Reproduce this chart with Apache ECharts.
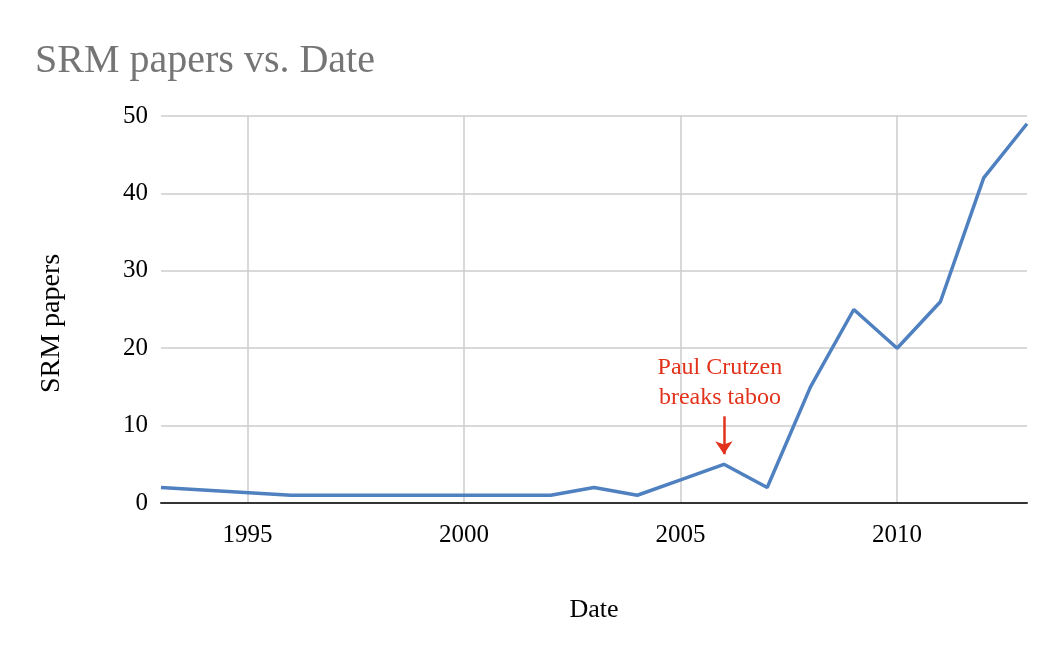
<!doctype html>
<html lang="en">
<head>
    <meta charset="UTF-8">
    <title>SRM papers vs. Date</title>
    <script type="text/javascript" src="https://cdn.jsdelivr.net/npm/echarts@6/dist/echarts.min.js"></script>
    <style>
        html, body { margin: 0; padding: 0; background: #fff; }
    </style>
</head>
<body>
<div id="main" style="width: 1060px; height: 656px;"></div>
<script type="text/javascript">
    // years on the x axis, null = no point that year (line is joined across)
    var years = ['1993', '1994', '1995', '1996', '1997', '1998', '1999', '2000', '2001', '2002', '2003',
                 '2004', '2005', '2006', '2007', '2008', '2009', '2010', '2011', '2012', '2013'];
    var papers = [2, null, null, 1, 1, 1, 1, 1, 1, 1, 2,
                  1, 3, 5, 2, 15, 25, 20, 26, 42, 49];
    var yTicks = [0, 10, 20, 30, 40, 50];

    // annotation: arrow from/to value at the year Crutzen published
    var noteYear = '2006';
    var noteText = 'Paul Crutzen\nbreaks taboo';
    var arrowFrom = 11.2, arrowTo = 6.3, noteAt = 11.7;

    var serif = '"Liberation Serif", "Times New Roman", serif';
    var red = '#e2321b';

    var myChart = echarts.init(document.getElementById('main'));

    var option = {
        animation: false,
        backgroundColor: '#fff',
        title: {
            text: 'SRM papers vs. Date',
            left: 30,
            top: 36,
            textStyle: {
                color: '#757575',
                fontFamily: serif,
                fontWeight: 'normal',
                fontSize: 40
            }
        },
        grid: {
            left: 161,
            right: 33,
            top: 116,
            bottom: 153
        },
        xAxis: {
            type: 'category',
            data: years,
            boundaryGap: false,
            name: 'Date',
            nameLocation: 'middle',
            nameGap: 94,
            nameTextStyle: { color: '#000', fontFamily: serif, fontSize: 26 },
            axisLine: { lineStyle: { color: '#333', width: 2 } },
            axisTick: { show: false },
            axisLabel: {
                color: '#000',
                fontFamily: serif,
                fontSize: 25,
                margin: 20,
                interval: function (idx, val) { return Number(val) % 5 === 0; }
            },
            splitLine: {
                show: true,
                interval: function (idx, val) { return Number(val) % 5 === 0; },
                lineStyle: { color: '#cccccc', width: 1.5 }
            }
        },
        yAxis: {
            type: 'value',
            min: yTicks[0],
            max: yTicks[yTicks.length - 1],
            interval: 10,
            name: 'SRM papers',
            nameLocation: 'middle',
            nameGap: 95,
            nameRotate: 90,
            nameTextStyle: { color: '#000', fontFamily: serif, fontSize: 28, padding: [0, 28, 0, 0] },
            axisLine: { show: false },
            axisTick: { show: false },
            axisLabel: { color: '#000', fontFamily: serif, fontSize: 25, margin: 13 },
            splitLine: { lineStyle: { color: '#cccccc', width: 1.5 } }
        },
        series: [
            {
                name: 'SRM papers',
                type: 'line',
                data: papers,
                connectNulls: true,
                showSymbol: false,
                lineStyle: { color: '#4f80c0', width: 3.5 },
                itemStyle: { color: '#4f80c0' },
                markLine: {
                    silent: true,
                    symbol: ['none', 'arrow'],
                    symbolSize: [13, 13],
                    label: { show: false },
                    lineStyle: { color: red, width: 2.5, type: 'solid' },
                    data: [[
                        { coord: [noteYear, arrowFrom] },
                        { coord: [noteYear, arrowTo] }
                    ]]
                },
                markPoint: {
                    silent: true,
                    symbol: 'circle',
                    symbolSize: 0,
                    data: [{ coord: [noteYear, noteAt] }],
                    label: {
                        show: true,
                        position: 'top',
                        distance: 0,
                        offset: [-4, 0],
                        formatter: noteText,
                        color: red,
                        fontFamily: serif,
                        fontSize: 24,
                        lineHeight: 30
                    }
                }
            }
        ]
    };

    myChart.setOption(option);
</script>
</body>
</html>
